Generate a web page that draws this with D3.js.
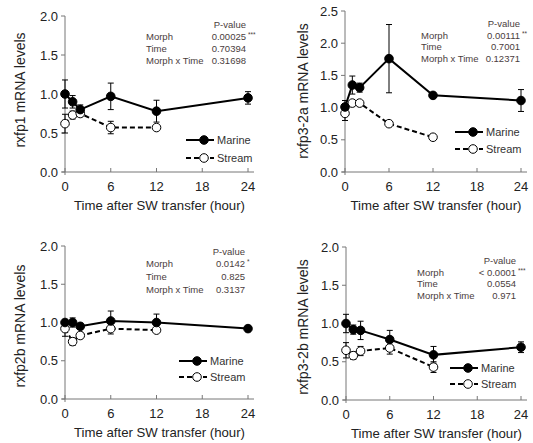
<!DOCTYPE html>
<html>
<head>
<meta charset="utf-8">
<script src="https://cdn.jsdelivr.net/npm/d3@7"></script>
<style>
  html, body { margin: 0; padding: 0; background: #fff; }
  svg { display: block; font-family: "Liberation Sans", Arial, sans-serif; }
</style>
</head>
<body>
<svg id="chart" width="533" height="443"></svg>
<script>
// ---------- data ----------
const timesMarine = [0, 1, 2, 6, 12, 24];
const timesStream = [0, 1, 2, 6, 12];
const xTicks = [0, 6, 12, 18, 24];

const genes = ["rxfp1", "rxfp3-2a", "rxfp2b", "rxfp3-2b"];
const yMaxes = [2.0, 2.5, 2.0, 2.0];

const rxfp1Marine = [1.00, 0.90, 0.80, 0.97, 0.78, 0.95];
const rxfp1MarineErr = [0.18, 0.08, 0.06, 0.17, 0.14, 0.08];
const rxfp1Stream = [0.62, 0.73, 0.75, 0.57, 0.57];
const rxfp1StreamErr = [0.12, 0.05, 0.04, 0.08, 0.03];

const rxfp32aMarine = [1.01, 1.35, 1.31, 1.76, 1.19, 1.11];
const rxfp32aMarineErr = [0.10, 0.14, 0.07, 0.53, 0.03, 0.17];
const rxfp32aStream = [0.91, 1.07, 1.07, 0.75, 0.54];
const rxfp32aStreamErr = [0.11, 0.03, 0.04, 0.02, 0.02];

const rxfp2bMarine = [1.00, 1.00, 0.95, 1.02, 1.00, 0.92];
const rxfp2bMarineErr = [0.03, 0.06, 0.04, 0.13, 0.11, 0.02];
const rxfp2bStream = [0.92, 0.75, 0.83, 0.92, 0.90];
const rxfp2bStreamErr = [0.10, 0.05, 0.04, 0.07, 0.02];

const rxfp32bMarine = [1.00, 0.92, 0.91, 0.79, 0.59, 0.69];
const rxfp32bMarineErr = [0.12, 0.06, 0.12, 0.12, 0.11, 0.07];
const rxfp32bStream = [0.65, 0.58, 0.64, 0.68, 0.43];
const rxfp32bStreamErr = [0.10, 0.05, 0.06, 0.08, 0.07];

const pLabels = ["Morph", "Time", "Morph x Time"];
const pValues1 = ["0.00025", "0.70394", "0.31698"];
const pStars1 = ["***", "", ""];
const pValues2 = ["0.00111", "0.7001", "0.12371"];
const pStars2 = ["**", "", ""];
const pValues3 = ["0.0142", "0.825", "0.3137"];
const pStars3 = ["*", "", ""];
const pValues4 = ["< 0.0001", "0.0554", "0.971"];
const pStars4 = ["***", "", ""];

const legendNames = ["Marine", "Stream"];

// ---------- layout ----------
const panels = [
  { gene: genes[0], yMax: yMaxes[0], marine: rxfp1Marine, marineErr: rxfp1MarineErr, stream: rxfp1Stream, streamErr: rxfp1StreamErr,
    pv: pValues1, ps: pStars1,
    x0: 65, x1: 248, yT: 16, yB: 172, ytX: 20, ytY: 90,
    pLabX: 146, pValX: 246, pRowY: [37, 49, 61], pHeadY: 25,
    legX: 186, legY: [140, 158] },
  { gene: genes[1], yMax: yMaxes[1], marine: rxfp32aMarine, marineErr: rxfp32aMarineErr, stream: rxfp32aStream, streamErr: rxfp32aStreamErr,
    pv: pValues2, ps: pStars2,
    x0: 345, x1: 521, yT: 11, yB: 172, ytX: 303, ytY: 91,
    pLabX: 421, pValX: 520, pRowY: [36, 47, 59], pHeadY: 24,
    legX: 455, legY: [132, 149] },
  { gene: genes[2], yMax: yMaxes[2], marine: rxfp2bMarine, marineErr: rxfp2bMarineErr, stream: rxfp2bStream, streamErr: rxfp2bStreamErr,
    pv: pValues3, ps: pStars3,
    x0: 65, x1: 248, yT: 246, yB: 399, ytX: 20, ytY: 326,
    pLabX: 146, pValX: 245, pRowY: [264, 277, 290], pHeadY: 252,
    legX: 179, legY: [361, 377] },
  { gene: genes[3], yMax: yMaxes[3], marine: rxfp32bMarine, marineErr: rxfp32bMarineErr, stream: rxfp32bStream, streamErr: rxfp32bStreamErr,
    pv: pValues4, ps: pStars4,
    x0: 346, x1: 521, yT: 247, yB: 400, ytX: 303, ytY: 327,
    pLabX: 417, pValX: 516, pRowY: [273, 284, 296], pHeadY: 261,
    legX: 450, legY: [368, 384] }
];

const svg = d3.select("#chart");
const axisColor = "#777";
const textColor = "#222";
const pColor = "#4a3d3d";
const R = 4.3;

panels.forEach(p => {
  const g = svg.append("g");
  const x = d3.scaleLinear().domain([0, 24]).range([p.x0, p.x1]);
  const y = d3.scaleLinear().domain([0, p.yMax]).range([p.yB, p.yT]);
  const yTicks = d3.range(0, p.yMax + 0.001, 0.5);

  // axes lines
  g.append("line").attr("x1", x(0)).attr("x2", x(0)).attr("y1", y(p.yMax)).attr("y2", y(0) + 3)
    .attr("stroke", axisColor).attr("stroke-width", 1);
  g.append("line").attr("x1", x(0) - 3).attr("x2", x(24) + 6).attr("y1", y(0)).attr("y2", y(0))
    .attr("stroke", axisColor).attr("stroke-width", 1);

  // y ticks
  yTicks.forEach(t => {
    g.append("line").attr("x1", x(0) - 4).attr("x2", x(0)).attr("y1", y(t)).attr("y2", y(t))
      .attr("stroke", axisColor);
    g.append("text").attr("x", x(0) - 7).attr("y", y(t)).attr("dy", "0.36em")
      .attr("text-anchor", "end").attr("font-size", 13).attr("fill", textColor)
      .text(d3.format(".1f")(t));
  });
  // x ticks
  xTicks.forEach(t => {
    g.append("line").attr("x1", x(t)).attr("x2", x(t)).attr("y1", y(0)).attr("y2", y(0) - 4)
      .attr("stroke", axisColor);
    g.append("text").attr("x", x(t)).attr("y", y(0) + 14).attr("dy", "0.36em")
      .attr("text-anchor", "middle").attr("font-size", 13).attr("fill", textColor)
      .text(t);
  });
  // axis titles
  g.append("text").attr("x", (x(0) + x(24)) / 2 + 3).attr("y", y(0) + 33).attr("dy", "0.36em")
    .attr("text-anchor", "middle").attr("font-size", 13.2).attr("fill", textColor)
    .text("Time after SW transfer (hour)");
  g.append("text").attr("transform", `translate(${p.ytX},${p.ytY}) rotate(-90)`)
    .attr("dy", "0.36em").attr("text-anchor", "middle").attr("font-size", 14).attr("fill", textColor)
    .text(p.gene + " mRNA levels");

  // p-value table
  g.append("text").attr("x", p.pValX).attr("y", p.pHeadY).attr("dy", "0.36em")
    .attr("text-anchor", "end").attr("font-size", 9.5).attr("fill", pColor).text("P-value");
  pLabels.forEach((lab, i) => {
    g.append("text").attr("x", p.pLabX).attr("y", p.pRowY[i]).attr("dy", "0.36em")
      .attr("font-size", 9.5).attr("fill", pColor).text(lab);
    g.append("text").attr("x", p.pValX).attr("y", p.pRowY[i]).attr("dy", "0.36em")
      .attr("text-anchor", "end").attr("font-size", 9.5).attr("fill", pColor).text(p.pv[i]);
    if (p.ps[i]) {
      g.append("text").attr("x", p.pValX + 2).attr("y", p.pRowY[i] - 2).attr("dy", "0.36em")
        .attr("font-size", 6.5).attr("fill", pColor).text(p.ps[i]);
    }
  });

  const series = [
    { name: legendNames[0], t: timesMarine, v: p.marine, e: p.marineErr, fill: "#000", dash: null },
    { name: legendNames[1], t: timesStream, v: p.stream, e: p.streamErr, fill: "#fff", dash: "5,3" }
  ];

  // error bars
  series.forEach(s => {
    s.t.forEach((t, i) => {
      const cx = x(t), hi = y(s.v[i] + s.e[i]), lo = y(s.v[i] - s.e[i]);
      g.append("line").attr("x1", cx).attr("x2", cx).attr("y1", hi).attr("y2", lo)
        .attr("stroke", "#000").attr("stroke-width", 1);
      [hi, lo].forEach(yy => g.append("line").attr("x1", cx - 3).attr("x2", cx + 3)
        .attr("y1", yy).attr("y2", yy).attr("stroke", "#000").attr("stroke-width", 1));
    });
  });

  // lines and markers (stream first, marine on top)
  [series[1], series[0]].forEach(s => {
    const pts = s.t.map((t, i) => [x(t), y(s.v[i])]);
    g.append("path").attr("d", d3.line()(pts)).attr("fill", "none")
      .attr("stroke", "#000").attr("stroke-width", 2)
      .attr("stroke-dasharray", s.dash);
    g.selectAll(null).data(pts).enter().append("circle")
      .attr("cx", d => d[0]).attr("cy", d => d[1]).attr("r", R)
      .attr("fill", s.fill).attr("stroke", "#000").attr("stroke-width", 1);
  });

  // legend
  series.forEach((s, i) => {
    const ly = p.legY[i];
    g.append("line").attr("x1", p.legX).attr("x2", p.legX + 28).attr("y1", ly).attr("y2", ly)
      .attr("stroke", "#000").attr("stroke-width", 2).attr("stroke-dasharray", s.dash);
    g.append("circle").attr("cx", p.legX + 18).attr("cy", ly).attr("r", R)
      .attr("fill", s.fill).attr("stroke", "#000").attr("stroke-width", 1);
    g.append("text").attr("x", p.legX + 31).attr("y", ly).attr("dy", "0.36em")
      .attr("font-size", 11).attr("fill", "#333").text(s.name);
  });
});
</script>
</body>
</html>
